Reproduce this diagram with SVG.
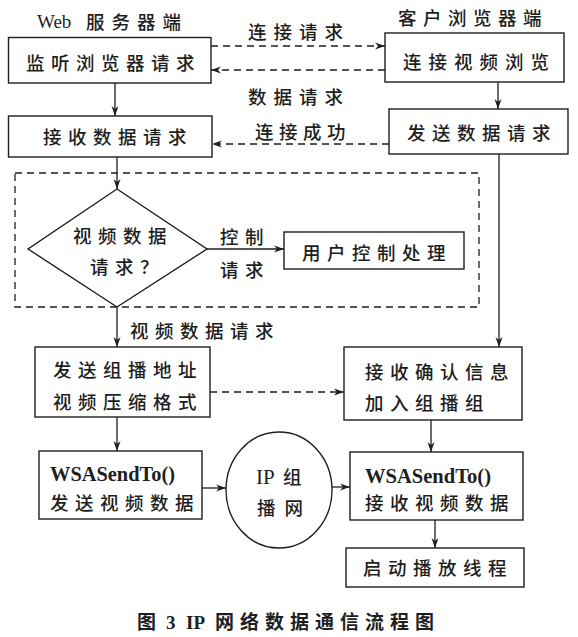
<svg xmlns="http://www.w3.org/2000/svg" width="578" height="637" viewBox="0 0 578 637">
<style>
  .box { fill: none; stroke: #1e1e1e; stroke-width: 1.4; }
  .ln { fill: none; stroke: #1e1e1e; stroke-width: 1.3; }
  .dash { stroke-dasharray: 7 5; }
  .t { font-family: "Noto Sans CJK SC", "Noto Sans", sans-serif; font-size: 18.5px; font-weight: 500; fill: #1e1e1e; letter-spacing: 6.5px; }
  .w { font-family: "Liberation Serif", "Noto Sans CJK SC", serif; font-size: 21px; font-weight: bold; fill: #1e1e1e; }
  .cap { font-family: "Noto Sans CJK SC", "Noto Sans", sans-serif; font-size: 19px; fill: #1e1e1e; font-weight: bold; letter-spacing: 6px; }
</style>
<defs>
  <marker id="ah" viewBox="0 0 10 8" refX="10" refY="4" markerWidth="10" markerHeight="8" markerUnits="userSpaceOnUse" orient="auto">
    <path d="M0,0.5 L10,4 L0,7.5 L3,4 Z" fill="#1e1e1e"/>
  </marker>
</defs>
<rect width="578" height="637" fill="#ffffff"/>

<!-- headers -->
<g id="hdr-server">
  <text x="37" y="28" class="w" style="font-weight:normal;font-size:19px">Web</text>
  <text x="86" y="29" class="t" style="letter-spacing:7px">服务器端</text>
</g>
<g id="hdr-client">
  <text x="398" y="25" class="t">客户浏览器端</text>
</g>

<!-- group box -->
<g id="control-region">
  <rect x="15" y="173" width="464" height="134" class="ln dash"/>
</g>

<g id="n-listen">
  <rect x="8.5" y="37.5" width="202.5" height="45.5" class="box"/>
  <text x="26" y="70" class="t">监听浏览器请求</text>
</g>
<g id="n-connect">
  <rect x="385" y="33" width="179" height="49" class="box"/>
  <text x="403" y="69" class="t" style="letter-spacing:7px">连接视频浏览</text>
</g>
<g id="n-recvreq">
  <rect x="8.5" y="116" width="203.5" height="41" class="box"/>
  <text x="43" y="144" class="t">接收数据请求</text>
</g>
<g id="n-sendreq">
  <rect x="389" y="109" width="179" height="45" class="box"/>
  <text x="407" y="140" class="t">发送数据请求</text>
</g>
<g id="n-decision">
  <polygon points="117,189 207,249 117,307 28,249" class="box"/>
  <text x="73" y="243" class="t">视频数据</text>
  <text x="90" y="274" class="t">请求？</text>
</g>
<g id="n-userctl">
  <rect x="284" y="232" width="180" height="37" class="box"/>
  <text x="302" y="260" class="t">用户控制处理</text>
</g>
<g id="n-sendaddr">
  <rect x="35" y="347" width="175" height="70" class="box"/>
  <text x="53" y="377" class="t">发送组播地址</text>
  <text x="53" y="409" class="t">视频压缩格式</text>
</g>
<g id="n-confirm">
  <rect x="344" y="347" width="178" height="73" class="box"/>
  <text x="365" y="379" class="t">接收确认信息</text>
  <text x="365" y="410" class="t">加入组播组</text>
</g>
<g id="n-sendto">
  <rect x="39" y="451" width="163" height="68" class="box"/>
  <text x="50" y="481" class="w" textLength="125" lengthAdjust="spacingAndGlyphs">WSASendTo()</text>
  <text x="50" y="510" class="t">发送视频数据</text>
</g>
<g id="n-ipnet">
  <ellipse cx="279" cy="490" rx="53" ry="58" class="box"/>
  <text x="256" y="484" class="w" style="font-weight:normal">IP</text>
  <text x="283" y="484" class="t">组</text>
  <text x="257" y="515" class="t" style="letter-spacing:9px">播网</text>
</g>
<g id="n-recvto">
  <rect x="350" y="452" width="173" height="68" class="box"/>
  <text x="365" y="483" class="w" textLength="126" lengthAdjust="spacingAndGlyphs">WSASendTo()</text>
  <text x="365" y="510" class="t">接收视频数据</text>
</g>
<g id="n-play">
  <rect x="346" y="548" width="178" height="39" class="box"/>
  <text x="363" y="575" class="t">启动播放线程</text>
</g>

<g id="connectors">
  <line x1="211" y1="46" x2="385" y2="46" class="ln dash" marker-end="url(#ah)"/>
  <line x1="385" y1="70" x2="211" y2="70" class="ln dash" marker-end="url(#ah)"/>
  <line x1="389" y1="144" x2="212" y2="144" class="ln dash" marker-end="url(#ah)"/>
  <line x1="115" y1="83" x2="115" y2="116" class="ln" marker-end="url(#ah)"/>
  <line x1="498" y1="82" x2="498" y2="109" class="ln" marker-end="url(#ah)"/>
  <line x1="117" y1="157" x2="117" y2="189" class="ln" marker-end="url(#ah)"/>
  <line x1="207" y1="249" x2="284" y2="249" class="ln" marker-end="url(#ah)"/>
  <line x1="117" y1="307" x2="117" y2="347" class="ln" marker-end="url(#ah)"/>
  <line x1="499" y1="154" x2="499" y2="347" class="ln" marker-end="url(#ah)"/>
  <line x1="210" y1="392" x2="344" y2="392" class="ln dash" marker-end="url(#ah)"/>
  <line x1="117" y1="417" x2="117" y2="451" class="ln" marker-end="url(#ah)"/>
  <line x1="431" y1="420" x2="431" y2="452" class="ln" marker-end="url(#ah)"/>
  <line x1="202" y1="488" x2="226" y2="488" class="ln" marker-end="url(#ah)"/>
  <line x1="332" y1="487" x2="350" y2="487" class="ln" marker-end="url(#ah)"/>
  <line x1="435" y1="520" x2="435" y2="548" class="ln" marker-end="url(#ah)"/>
  <text x="248" y="39" class="t" style="letter-spacing:7px">连接请求</text>
  <text x="248" y="104" class="t" style="letter-spacing:7px">数据请求</text>
  <text x="255" y="139" class="t" style="letter-spacing:5.5px">连接成功</text>
  <text x="220" y="244" class="t">控制</text>
  <text x="220" y="277" class="t">请求</text>
  <text x="130" y="338" class="t">视频数据请求</text>
</g>

<g id="caption">
  <text x="137" y="629" class="cap">图</text>
  <text x="166" y="629" class="w" style="font-size:19px">3</text>
  <text x="186" y="629" class="w" style="font-size:19px">IP</text>
  <text x="215" y="629" class="cap">网络数据通信流程图</text>
</g>
</svg>
